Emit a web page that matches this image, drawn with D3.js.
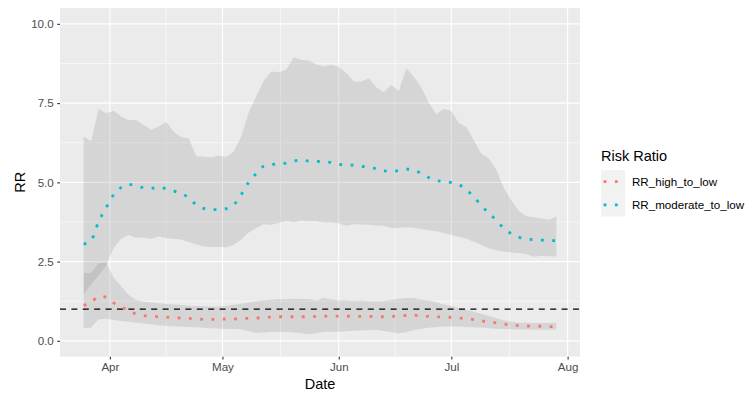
<!DOCTYPE html>
<html>
<head>
<meta charset="utf-8">
<script src="https://cdn.jsdelivr.net/npm/d3@7"></script>
<style>
  body { margin: 0; background: #ffffff; }
  text { font-family: "Liberation Sans", Arial, Helvetica, sans-serif; }
</style>
</head>
<body>
<svg id="chart" width="747" height="393"></svg>
<script>
// Risk ratios by date (every 2 days from the start date), with 95% bands
const startDate = "2020-03-25";
const stepDays = 2;

const rrModerateToLow = [
  3.05,3.17,3.76,4.20,4.61,4.84,4.94,4.89,4.83,4.81,
  4.84,4.80,4.73,4.64,4.52,4.29,4.18,4.14,4.14,4.17,
  4.29,4.61,5.00,5.28,5.51,5.56,5.58,5.61,5.67,5.70,
  5.67,5.66,5.65,5.63,5.57,5.55,5.54,5.51,5.47,5.43,
  5.36,5.35,5.37,5.42,5.38,5.28,5.15,5.05,5.03,4.99,
  4.93,4.76,4.55,4.26,4.03,3.80,3.55,3.38,3.27,3.21,
  3.19,3.18,3.16,3.16
];
const rrModerateUpper = [
  6.44,6.30,7.31,7.18,7.26,7.08,6.96,6.97,6.81,6.65,
  6.76,6.90,6.60,6.42,6.39,5.82,5.81,5.79,5.84,5.80,
  5.97,6.45,7.20,7.72,8.20,8.50,8.47,8.55,8.95,8.86,
  8.84,8.72,8.66,8.70,8.65,8.45,8.18,8.18,8.28,8.00,
  7.84,8.08,7.88,8.60,8.33,8.00,7.50,7.15,7.32,7.25,
  6.87,6.75,6.33,5.90,5.75,5.40,4.82,4.43,4.10,3.93,
  3.89,3.86,3.82,3.92
];
const rrModerateLower = [
  1.48,1.78,2.07,2.36,2.93,3.22,3.34,3.25,3.26,3.21,
  3.30,3.24,3.22,3.20,3.12,3.05,2.98,2.96,2.97,2.95,
  3.03,3.20,3.42,3.56,3.68,3.66,3.72,3.79,3.74,3.80,
  3.77,3.78,3.73,3.73,3.71,3.63,3.68,3.67,3.66,3.64,
  3.63,3.56,3.57,3.58,3.57,3.53,3.49,3.46,3.40,3.34,
  3.28,3.22,3.13,3.03,2.92,2.86,2.81,2.79,2.77,2.74,
  2.65,2.68,2.67,2.66
];

const rrHighToLow = [
  1.12,1.21,1.40,1.38,1.20,1.08,0.94,0.85,0.80,0.78,
  0.76,0.75,0.73,0.72,0.71,0.69,0.68,0.68,0.68,0.69,
  0.69,0.70,0.71,0.72,0.74,0.75,0.76,0.76,0.76,0.76,
  0.76,0.77,0.78,0.78,0.78,0.78,0.77,0.77,0.77,0.76,
  0.76,0.77,0.79,0.80,0.81,0.78,0.77,0.76,0.75,0.74,
  0.72,0.70,0.67,0.63,0.60,0.57,0.53,0.50,0.48,0.47,
  0.46,0.46,0.45,0.45
];
const rrHighUpper = [
  2.13,2.15,2.45,2.47,2.00,1.72,1.45,1.29,1.23,1.21,
  1.19,1.16,1.15,1.13,1.11,1.10,1.09,1.08,1.08,1.10,
  1.14,1.17,1.20,1.25,1.28,1.30,1.32,1.31,1.33,1.32,
  1.32,1.27,1.35,1.31,1.27,1.28,1.26,1.27,1.25,1.24,
  1.26,1.29,1.33,1.35,1.35,1.30,1.27,1.22,1.15,1.10,
  1.04,0.98,0.92,0.85,0.78,0.71,0.65,0.60,0.57,0.57,
  0.56,0.56,0.56,0.57
];
const rrHighLower = [
  0.40,0.42,0.68,0.70,0.66,0.63,0.60,0.57,0.55,0.52,
  0.49,0.47,0.46,0.45,0.44,0.43,0.41,0.40,0.39,0.37,
  0.37,0.36,0.30,0.25,0.26,0.28,0.29,0.28,0.26,0.24,
  0.21,0.24,0.29,0.29,0.29,0.30,0.32,0.33,0.34,0.35,
  0.31,0.27,0.24,0.27,0.34,0.38,0.41,0.44,0.45,0.45,
  0.45,0.44,0.43,0.42,0.40,0.38,0.37,0.37,0.36,0.36,
  0.35,0.35,0.35,0.35
];

const referenceRR = 1;

const seriesNames = ["RR_high_to_low", "RR_moderate_to_low"];
const seriesColors = ["#F8766D", "#00BFC4"];

const xTickDates = ["2020-04-01", "2020-05-01", "2020-06-01", "2020-07-01", "2020-08-01"];
const xTickLabels = ["Apr", "May", "Jun", "Jul", "Aug"];
const yTicks = [0, 2.5, 5, 7.5, 10];
const yTickLabels = ["0.0", "2.5", "5.0", "7.5", "10.0"];
const yLimits = [0, 10];

// ---- layout ----
const panel = { left: 60, right: 580, top: 8, bottom: 356.7 };
const parse = d3.timeParse("%Y-%m-%d");
const t0 = parse(startDate);
const dates = rrModerateToLow.map((_, i) => d3.timeDay.offset(t0, i * stepDays));

const tMin = dates[0].getTime(), tMax = dates[dates.length - 1].getTime();
const tPad = (tMax - tMin) * 0.05;
const x = d3.scaleTime()
  .domain([new Date(tMin - tPad), new Date(tMax + tPad)])
  .range([panel.left, panel.right]);

const yPad = (yLimits[1] - yLimits[0]) * 0.05;
const y = d3.scaleLinear()
  .domain([yLimits[0] - yPad, yLimits[1] + yPad])
  .range([panel.bottom, panel.top]);

const svg = d3.select("#chart");

// panel background
svg.append("rect")
  .attr("x", panel.left).attr("y", panel.top)
  .attr("width", panel.right - panel.left).attr("height", panel.bottom - panel.top)
  .attr("fill", "#EBEBEB");

const grid = svg.append("g");
const xMajor = xTickDates.map(parse);
const xMinor = [];
for (let i = 0; i < xMajor.length - 1; i++) {
  xMinor.push(new Date((xMajor[i].getTime() + xMajor[i + 1].getTime()) / 2));
}
const yMinor = [];
for (let i = 0; i < yTicks.length - 1; i++) yMinor.push((yTicks[i] + yTicks[i + 1]) / 2);

grid.selectAll(".ymin").data(yMinor).join("line")
  .attr("x1", panel.left).attr("x2", panel.right)
  .attr("y1", d => y(d)).attr("y2", d => y(d))
  .attr("stroke", "#fff").attr("stroke-width", 0.55);
grid.selectAll(".xmin").data(xMinor.filter(d => x(d) > panel.left && x(d) < panel.right)).join("line")
  .attr("y1", panel.top).attr("y2", panel.bottom)
  .attr("x1", d => x(d)).attr("x2", d => x(d))
  .attr("stroke", "#fff").attr("stroke-width", 0.55);
grid.selectAll(".ymaj").data(yTicks).join("line")
  .attr("x1", panel.left).attr("x2", panel.right)
  .attr("y1", d => y(d)).attr("y2", d => y(d))
  .attr("stroke", "#fff").attr("stroke-width", 1.1);
grid.selectAll(".xmaj").data(xMajor).join("line")
  .attr("y1", panel.top).attr("y2", panel.bottom)
  .attr("x1", d => x(d)).attr("x2", d => x(d))
  .attr("stroke", "#fff").attr("stroke-width", 1.1);

// confidence ribbons
const ribbons = [
  { lo: rrHighLower, hi: rrHighUpper },
  { lo: rrModerateLower, hi: rrModerateUpper }
];
const area = d3.area()
  .x(d => x(d.date)).y0(d => y(d.lo)).y1(d => y(d.hi));
ribbons.forEach(r => {
  const pts = dates.map((d, i) => ({ date: d, lo: r.lo[i], hi: r.hi[i] }));
  svg.append("path").datum(pts)
    .attr("d", area)
    .attr("fill", "#7F7F7F").attr("fill-opacity", 0.2);
});

// reference line at RR = 1
svg.append("line")
  .attr("x1", panel.left).attr("x2", panel.right)
  .attr("y1", y(referenceRR)).attr("y2", y(referenceRR))
  .attr("stroke", "#000").attr("stroke-width", 1.3)
  .attr("stroke-dasharray", "6,5.4");

// dotted estimate lines
const lineGen = d3.line().x(d => x(d.date)).y(d => y(d.v)).curve(d3.curveMonotoneX);
const estimates = [rrHighToLow, rrModerateToLow];
estimates.forEach((vals, k) => {
  const pts = dates.map((d, i) => ({ date: d, v: vals[i] }));
  svg.append("path").datum(pts)
    .attr("d", lineGen)
    .attr("fill", "none")
    .attr("stroke", seriesColors[k]).attr("stroke-width", 2.8)
    .attr("stroke-dasharray", "2.8,8.5");
});

// axes
const axisColor = "#333333", labelColor = "#4D4D4D";
const yAxis = svg.append("g")
  .attr("transform", `translate(${panel.left},0)`)
  .call(d3.axisLeft(y).tickValues(yTicks).tickFormat((d, i) => yTickLabels[i]).tickSize(2.75).tickPadding(3.5));
const xAxis = svg.append("g")
  .attr("transform", `translate(0,${panel.bottom})`)
  .call(d3.axisBottom(x).tickValues(xMajor).tickFormat((d, i) => xTickLabels[i]).tickSize(2.75).tickPadding(3));
[yAxis, xAxis].forEach(g => {
  g.select(".domain").remove();
  g.selectAll(".tick line").attr("stroke", axisColor).attr("stroke-width", 1.1);
  g.selectAll(".tick text").attr("fill", labelColor)
    .style("font-size", "11.6px")
    .style("font-family", '"Liberation Sans", Arial, sans-serif');
});

// axis titles
svg.append("text")
  .attr("x", (panel.left + panel.right) / 2).attr("y", 389)
  .attr("text-anchor", "middle").attr("fill", "#000")
  .style("font-size", "14.5px").text("Date");
svg.append("text")
  .attr("transform", `translate(24.5,${(panel.top + panel.bottom) / 2}) rotate(-90)`)
  .attr("text-anchor", "middle").attr("fill", "#000")
  .style("font-size", "14.5px").text("RR");

// legend
const legend = svg.append("g");
legend.append("text")
  .attr("x", 601).attr("y", 161)
  .style("font-size", "14.5px").attr("fill", "#000")
  .text("Risk Ratio");
const keyH = 23.3, keyTop = 170;
seriesNames.forEach((name, k) => {
  const ky = keyTop + k * keyH;
  legend.append("rect")
    .attr("x", 601).attr("y", ky).attr("width", 24).attr("height", keyH)
    .attr("fill", "#F2F2F2");
  legend.append("line")
    .attr("x1", 603.6).attr("x2", 625)
    .attr("y1", ky + keyH / 2).attr("y2", ky + keyH / 2)
    .attr("stroke", seriesColors[k]).attr("stroke-width", 2.8)
    .attr("stroke-dasharray", "2.8,8.5");
  legend.append("text")
    .attr("x", 632).attr("y", ky + keyH / 2 + 4.2)
    .style("font-size", "11.6px").attr("fill", "#000")
    .text(name);
});
</script>
</body>
</html>
